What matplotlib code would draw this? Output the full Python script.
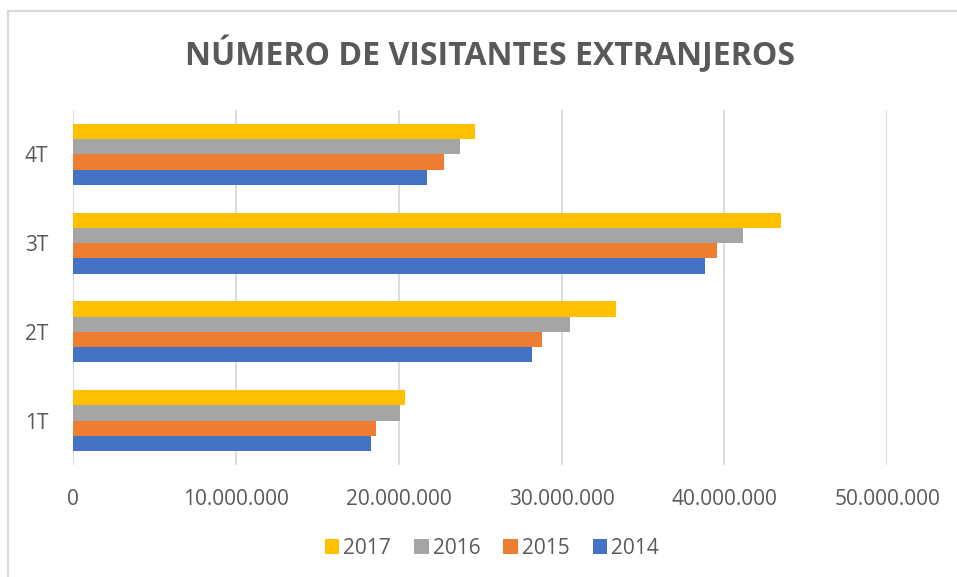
import matplotlib.pyplot as plt
import numpy as np
from matplotlib.ticker import FuncFormatter
from matplotlib.lines import Line2D

categories = ['1T', '2T', '3T', '4T']
years = ['2014', '2015', '2016', '2017']
v2014 = [18270000, 28200000, 38830000, 21740000]
v2015 = [18580000, 28820000, 39530000, 22770000]
v2016 = [20080000, 30540000, 41170000, 23740000]
v2017 = [20400000, 33370000, 43480000, 24660000]
colors = ['#4472C4', '#ED7D31', '#A5A5A5', '#FFC000']

plt.rcParams['font.family'] = ['Open Sans', 'DejaVu Sans']
TXT = '#595959'

fig = plt.figure(figsize=(9.57, 5.77), dpi=100)
ax = fig.add_axes([0.0766, 0.194, 0.927 - 0.0766, 0.8094 - 0.194])

y = np.arange(len(categories))
h = 0.172
bars = []
for i, (vals, col) in enumerate(zip([v2014, v2015, v2016, v2017], colors)):
    b = ax.barh(y + (i - 1.5) * h, vals, height=h, color=col, label=years[i], zorder=3)
    bars.append(b)

ax.set_xlim(0, 50000000)
ax.set_ylim(-0.5, 3.5)
ax.set_xticks(np.arange(0, 50000001, 10000000))
ax.xaxis.set_major_formatter(FuncFormatter(lambda v, p: f"{v:,.0f}".replace(",", ".")))
ax.set_yticks(y)
ax.set_yticklabels(categories)
ax.grid(axis='x', color='#d9d9d9', linewidth=1.3, zorder=0)
for s in ax.spines.values():
    s.set_visible(False)
ax.tick_params(axis='both', length=0, labelsize=15, labelcolor=TXT)
ax.tick_params(axis='x', pad=17)
ax.tick_params(axis='y', pad=18)

fig.text(0.512, 0.905, 'NÚMERO DE VISITANTES EXTRANJEROS', ha='center', va='center',
         fontsize=23, fontweight='bold', color=TXT)

fig.legend(handles=bars[::-1], labels=years[::-1], loc='center', ncol=4,
           bbox_to_anchor=(0.514, 1 - 548 / 577), frameon=False, fontsize=15,
           labelcolor=TXT, handlelength=0.7, handleheight=0.7, handletextpad=0.2,
           columnspacing=1.1)

bx = 8 / 957
by = 1 - 11 / 577
fig.add_artist(Line2D([bx, bx], [0, by], transform=fig.transFigure, color='#d9d9d9', linewidth=1.6))
fig.add_artist(Line2D([bx, 1], [by, by], transform=fig.transFigure, color='#d9d9d9', linewidth=1.6))

fig.savefig('out.png', dpi=100)
